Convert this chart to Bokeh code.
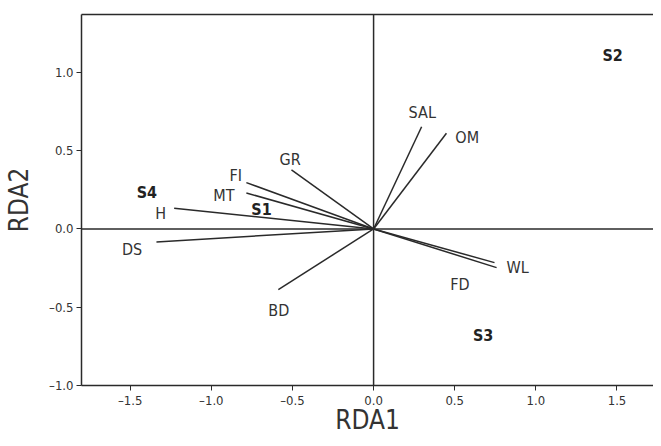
from bokeh.plotting import figure
from bokeh.models import Range1d, LinearAxis, FixedTicker, Span, ColumnDataSource
from bokeh.core.properties import value
from bokeh.embed import file_html
from bokeh.resources import INLINE

# Environmental vectors (arrow tips) and label positions
vec_names = ["SAL", "OM", "GR", "FI", "MT", "H", "DS", "BD", "WL", "FD"]
vec_x = [0.296, 0.449, -0.506, -0.784, -0.784, -1.229, -1.338, -0.587, 0.745, 0.758]
vec_y = [0.653, 0.611, 0.377, 0.296, 0.230, 0.132, -0.083, -0.387, -0.215, -0.247]
lab_x = [0.300, 0.577, -0.514, -0.849, -0.922, -1.312, -1.488, -0.584, 0.888, 0.532]
lab_y = [0.747, 0.583, 0.445, 0.343, 0.215, 0.098, -0.130, -0.523, -0.247, -0.353]

# Sites
site_names = ["S1", "S2", "S3", "S4"]
site_x = [-0.691, 1.473, 0.675, -1.397]
site_y = [0.126, 1.109, -0.679, 0.232]

x_ticks = [-1.5, -1.0, -0.5, 0.0, 0.5, 1.0, 1.5]
x_tick_labels = ["\u20131.5", "\u20131.0", "\u20130.5", "0.0", "0.5", "1.0", "1.5"]
y_ticks = [-1.0, -0.5, 0.0, 0.5, 1.0]
y_tick_labels = ["\u20131.0", "\u20130.5", "0.0", "0.5", "1.0"]

FONT = "DejaVu Sans Condensed"
INK = "#2a2a2a"

p = figure(width=653, height=438, output_backend="svg", toolbar_location=None,
           x_range=Range1d(-1.8, 1.725), y_range=Range1d(-1.0, 1.37),
           min_border_left=81, min_border_right=0, min_border_top=14, min_border_bottom=53)
p.outline_line_color = None
p.xgrid.visible = False
p.ygrid.visible = False

for ax, ticks, labels in ((p.xaxis[0], x_ticks, x_tick_labels), (p.yaxis[0], y_ticks, y_tick_labels)):
    ax.ticker = FixedTicker(ticks=ticks)
    ax.major_label_overrides = {t: l for t, l in zip(ticks, labels)}
    ax.minor_tick_line_color = None
    ax.major_tick_in = 0
    ax.major_tick_out = 5
    ax.axis_line_color = INK
    ax.axis_line_width = 1.5
    ax.major_tick_line_color = INK
    ax.major_label_text_font = FONT
    ax.major_label_text_font_size = "13px"
    ax.major_label_text_color = "#333333"
    ax.major_label_standoff = 3
    ax.axis_label_text_font = FONT
    ax.axis_label_text_font_size = "26px"
    ax.axis_label_text_font_style = "normal"
    ax.axis_label_text_color = "#333333"

p.xaxis.axis_label = "RDA1"
p.yaxis.axis_label = "RDA2"
p.yaxis.major_label_orientation = "horizontal"
p.xaxis.major_label_standoff = 2
p.xaxis.axis_label_standoff = -6
p.yaxis.axis_label_standoff = 12

top = LinearAxis(ticker=FixedTicker(ticks=[]), axis_line_color=INK, axis_line_width=1.5,
                 major_tick_line_color=None, minor_tick_line_color=None,
                 major_label_text_font_size="0px")
p.add_layout(top, "above")

p.add_layout(Span(location=0, dimension="width", line_color=INK, line_width=1.5))
p.add_layout(Span(location=0, dimension="height", line_color=INK, line_width=1.5))

vsrc = ColumnDataSource(dict(x0=[0.0] * len(vec_x), y0=[0.0] * len(vec_y), x1=vec_x, y1=vec_y))
p.segment(x0="x0", y0="y0", x1="x1", y1="y1", source=vsrc, line_color=INK, line_width=1.5)

p.text(x=lab_x, y=lab_y, text=vec_names, text_font=value(FONT), text_font_size="16px",
       text_align="center", text_baseline="middle", text_color="#333333")
p.text(x=site_x, y=site_y, text=site_names, text_font=value(FONT), text_font_size="16px",
       text_font_style="bold", text_align="center", text_baseline="middle", text_color="#222222")

open("out.html", "w").write(file_html(p, INLINE))
